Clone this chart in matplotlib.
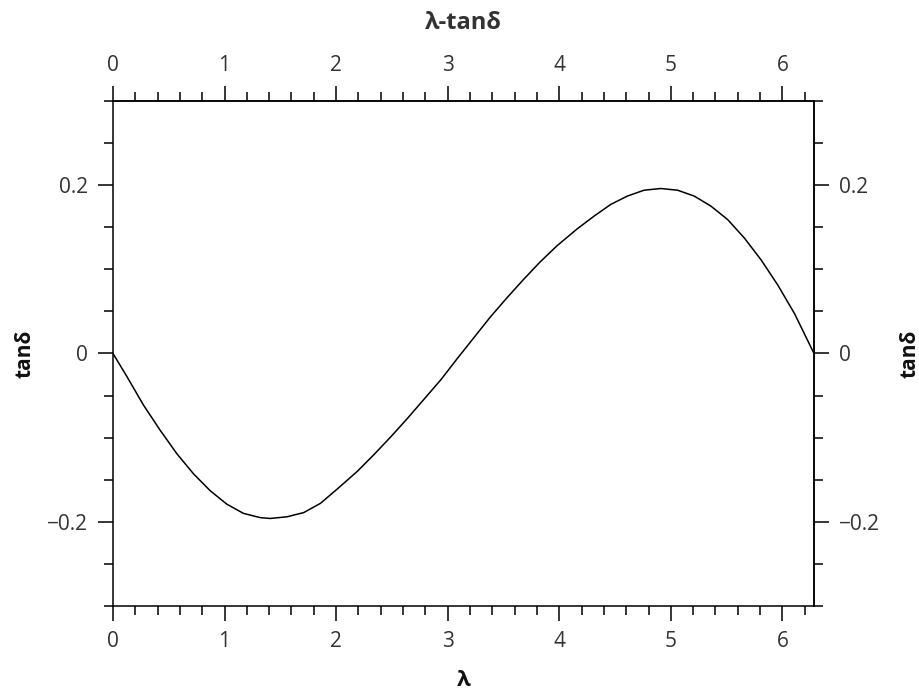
import numpy as np
import matplotlib.pyplot as plt
from matplotlib.ticker import MultipleLocator

plt.rcParams['font.family'] = ['Open Sans', 'DejaVu Sans']

# values
lam = [0.0, 0.123, 0.272, 0.422, 0.572, 0.722, 0.871, 1.02, 1.17, 1.32,
       1.41, 1.56, 1.71, 1.86, 2.01, 2.19, 2.34, 2.49, 2.64, 2.79, 2.94,
       3.08, 3.23, 3.38, 3.53, 3.68, 3.83, 3.98, 4.16, 4.31, 4.46, 4.61,
       4.76, 4.91, 5.06, 5.21, 5.36, 5.51, 5.66, 5.81, 5.96, 6.11, 6.283]
tan_delta = [0.0, -0.027, -0.061, -0.091, -0.119, -0.143, -0.163, -0.179,
             -0.190, -0.195, -0.196, -0.194, -0.189, -0.178, -0.161, -0.140,
             -0.120, -0.099, -0.077, -0.054, -0.031, -0.007, 0.018, 0.043,
             0.066, 0.088, 0.109, 0.128, 0.148, 0.163, 0.177, 0.187, 0.194,
             0.196, 0.194, 0.187, 0.175, 0.159, 0.137, 0.111, 0.081, 0.047,
             0.0]

x_max = 2 * np.pi
tick_col = '#333333'
lab_col = '#111111'

fig = plt.figure(figsize=(9.2, 6.94), dpi=100)
ax = fig.add_axes([0.1228, 0.1268, 0.7620, 0.7277])
ax.plot(lam, tan_delta, color='black', lw=1.1)

ax.set_xlim(0, x_max)
ax.set_ylim(-0.3, 0.3)


def fmt(v, p):
    if abs(v) < 1e-9:
        return '0'
    return ('%g' % v).replace('-', '\u2212')


def style_x(axis):
    axis.set_major_locator(MultipleLocator(1))
    axis.set_minor_locator(MultipleLocator(0.2))


def style_y(axis):
    axis.set_major_locator(MultipleLocator(0.2))
    axis.set_minor_locator(MultipleLocator(0.05))
    axis.set_major_formatter(fmt)


def style_ticks(a, which):
    a.tick_params(axis=which, which='major', direction='out', length=11,
                  width=1.1, labelsize=15, labelcolor=tick_col, pad=7)
    a.tick_params(axis=which, which='minor', direction='out', length=6.5,
                  width=1.1)


style_x(ax.xaxis)
style_y(ax.yaxis)
style_ticks(ax, 'both')
for s in ax.spines.values():
    s.set_linewidth(1.1)

top = ax.secondary_xaxis('top')
style_x(top.xaxis)
style_ticks(top, 'x')
top.spines['top'].set_linewidth(1.1)

right = ax.secondary_yaxis('right')
style_y(right.yaxis)
style_ticks(right, 'y')
right.spines['right'].set_linewidth(1.1)

ax.set_xlabel('λ', fontsize=16, fontweight='bold', color=lab_col, labelpad=13)
ax.set_ylabel('tanδ', fontsize=15, fontweight='bold', color=lab_col, labelpad=8)
right.set_ylabel('tanδ', fontsize=15, fontweight='bold', color=lab_col, labelpad=14)
ax.set_title('λ-tanδ', fontsize=17, fontweight='bold', color='#333333', pad=52)

plt.savefig('out.png', dpi=100)
plt.close()
